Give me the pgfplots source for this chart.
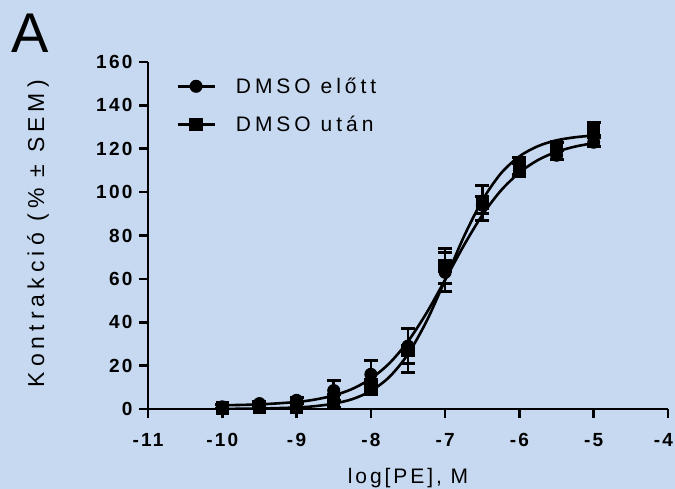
\documentclass[border=0pt]{standalone}
\usepackage{fontspec}
\setmainfont{Liberation Sans}
\usepackage{pgfplots}
\usepackage{pgfplotstable}
\pgfplotsset{compat=1.18}
\newfontfamily\legfont[LetterSpace=19]{Liberation Sans}
\newfontfamily\ylabfont[LetterSpace=22]{Liberation Sans}
\newfontfamily\xlabfont[LetterSpace=14]{Liberation Sans}
\newfontfamily\tickspaced[LetterSpace=12]{Liberation Sans}
\definecolor{bgblue}{HTML}{C6D9F0}

% thick error bar cap, same orientation as the "-" mark
\pgfdeclareplotmark{cap}{%
  \pgfpathrectangle{\pgfpoint{-7bp}{-1.5bp}}{\pgfpoint{14bp}{3bp}}%
  \pgfusepathqfill}

% means and SEM, DMSO before
\pgfplotstableread{
x     y     e
-10   1.0   1.0
-9.5  2.5   1.0
-9    4.0   1.5
-8.5  8.5   4.5
-8    16    6.5
-7.5  29    8
-7    63    9
-6.5  94    4
-6    110   3
-5.5  117   2
-5    123   2
}\before

% means and SEM, DMSO after
\pgfplotstableread{
x     y     e
-10   0.5   1.5
-9.5  1.0   1.0
-9    1.0   1.5
-8.5  3.5   3
-8    10    3.5
-7.5  27    10
-7    66    8
-6.5  95    8
-6    112   4
-5.5  121   2
-5    129   3
}\after

\begin{document}
\begin{tikzpicture}
\fill[bgblue] (0,0) rectangle (675bp,489bp);
\useasboundingbox (0,0) rectangle (675bp,489bp);
\node[font=\fontsize{56bp}{60bp}\selectfont, anchor=base west, inner sep=0pt] at (11bp,436bp) {A};
\begin{axis}[
  at={(148bp,80bp)}, anchor=south west,
  scale only axis, width=520bp, height=347bp,
  xmin=-11, xmax=-4, ymin=0, ymax=160,
  axis lines=left,
  axis line style={line width=2.6bp, -},
  tick style={line width=2.6bp, black},
  major tick length=9bp,
  tick align=outside,
  xtick={-11,-10,...,-4},
  xticklabels={-11,-10,-9,-8,-7,-6,-5,{\makebox[10bp][r]{-4}}},
  ytick={0,20,...,160},
  yticklabels={0,20,40,60,80,100,120,140,160},
  ticklabel style={font=\tickspaced\bfseries\fontsize{19bp}{21bp}\selectfont},
  xticklabel style={yshift=-12bp},
  yticklabel style={xshift=-3bp},
  xlabel={log[PE], M},
  ylabel={Kontrakció (\% ± SEM)},
  xlabel style={at={(axis description cs:0.5,-0.199)}, anchor=center,
    font=\xlabfont\fontsize{21bp}{24bp}\selectfont},
  ylabel style={at={(axis description cs:-0.2115,0.505)}, anchor=center, rotate=0,
    font=\ylabfont\fontsize{23bp}{26bp}\selectfont},
  legend image code/.code={\draw[#1, mark repeat=2, mark phase=2] plot coordinates {(0bp,0bp) (18.5bp,0bp) (37bp,0bp)};},
  legend style={at={(axis description cs:0.054,0.955)}, anchor=north west, draw=none, fill=none,
    inner sep=0pt, row sep=21bp, column sep=0bp,
    font=\legfont\fontsize{21bp}{24bp}\selectfont,
    nodes={inner sep=0pt}},
  legend cell align=left,
  /tikz/every odd column/.append style={column sep=20bp},
]
\addlegendimage{black, line width=2.6bp, mark=*, mark size=6bp, mark options={line width=1bp}}
\addlegendentry{DMSO előtt}
\addlegendimage{black, line width=2.6bp, mark=square*, mark size=6.2bp, mark options={line width=1bp}}
\addlegendentry{DMSO után}

% fitted curves
\addplot[black, line width=2.6bp, smooth, forget plot] coordinates {
  (-10,1.72) (-9.5,2.12) (-9,3.23) (-8.75,4.37) (-8.5,6.24) (-8.25,9.26)
  (-8,14.0) (-7.75,21.1) (-7.5,31.2) (-7.25,44.3) (-7,59.6) (-6.75,75.3)
  (-6.5,89.4) (-6.25,100.7) (-6,109.0) (-5.75,114.8) (-5.5,118.6)
  (-5.25,121.0) (-5,122.6)};
\addplot[black, line width=2.6bp, smooth, forget plot] coordinates {
  (-10,0.06) (-9.5,0.2) (-9,0.7) (-8.75,1.32) (-8.5,2.46) (-8.25,4.55)
  (-8,8.31) (-7.75,14.8) (-7.5,25.3) (-7.25,40.5) (-7,59.5) (-6.75,79.3)
  (-6.5,96.2) (-6.25,108.6) (-6,116.5) (-5.75,121.2) (-5.5,123.9)
  (-5.25,125.3) (-5,126.1)};

\addplot[black, line width=1bp, only marks, mark=*, mark size=6bp, forget plot,
  error bars/.cd, y dir=both, y explicit,
  error bar style={line width=2.6bp, black},
  error mark=cap,
  error mark options={rotate=90, black}]
  table[x=x, y=y, y error=e] {\before};
\addplot[black, line width=1bp, only marks, mark=square*, mark size=6.2bp, forget plot,
  error bars/.cd, y dir=both, y explicit,
  error bar style={line width=2.6bp, black},
  error mark=cap,
  error mark options={rotate=90, black}]
  table[x=x, y=y, y error=e] {\after};
\end{axis}
\end{tikzpicture}
\end{document}
